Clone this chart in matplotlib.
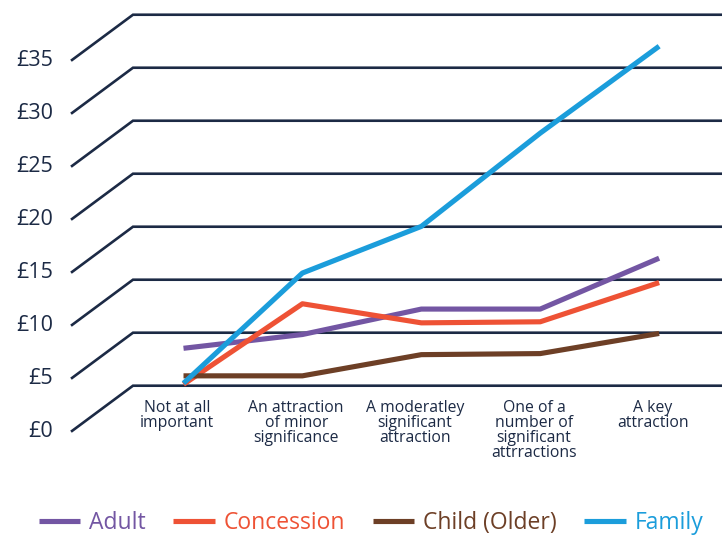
import matplotlib.pyplot as plt
import numpy as np

categories = [
    "Not at all\nimportant",
    "An attraction\nof minor\nsignificance",
    "A moderatley\nsignificant\nattraction",
    "One of a\nnumber of\nsignificant\nattrractions",
    "A key\nattraction",
]
series_names = ["Adult", "Concession", "Child (Older)", "Family"]
adult = [5.7, 7.0, 9.4, 9.4, 14.2]
concession = [2.3, 9.9, 8.1, 8.2, 11.9]
child_older = [3.1, 3.1, 5.1, 5.2, 7.1]
family = [2.4, 12.8, 17.2, 26.0, 34.2]
y_ticks = [0, 5, 10, 15, 20, 25, 30, 35]

colours = ["#7356a3", "#ee5235", "#6d3f26", "#1b9ddb"]
NAVY = "#1c2a45"

plt.rcParams["font.family"] = ["Open Sans", "DejaVu Sans"]
plt.rcParams["font.weight"] = "medium"

# fake 3d: back wall in data coords, depth 0 = back, 1 = front edge of floor
DEPTH_X = -0.5214
DEPTH_Y = -4.34
WALL_X = -0.6855
X_MIN, X_MAX = -1.804, 4.268


def project(x, y, depth):
    return np.asarray(x) + depth * DEPTH_X, np.asarray(y) + depth * DEPTH_Y


fig = plt.figure(figsize=(7.22, 5.36), dpi=100)
ax = fig.add_axes([0, 0, 1, 1])
ax.set_xlim(X_MIN, X_MAX)
ax.set_ylim(-14.18, 36.39)
ax.axis("off")

# gridlines: along the back wall, then folding forward on the side wall
for v in y_ticks:
    fx, fy = project(WALL_X, v, 1)
    ax.plot([fx, WALL_X, X_MAX + 1], [fy, v, v], color=NAVY, lw=1.9,
            solid_capstyle="butt", solid_joinstyle="miter", zorder=1)
    ax.annotate(f"£{v}", (fx, fy), xytext=(-13, 0), textcoords="offset points",
                ha="right", va="center", fontsize=15.5, color=NAVY)

# series run through the middle of the depth
xs = np.arange(len(categories))
for vals, name, c in zip([adult, concession, child_older, family], series_names, colours):
    px, py = project(xs, vals, 0.5)
    ax.plot(px, py, color=c, lw=3.7, solid_capstyle="butt", label=name, zorder=3)

for i, lab in enumerate(categories):
    lx, _ = project(i, 0, 0.6)
    ax.annotate(lab, (lx, 0), xytext=(0, -10.5), textcoords="offset points",
                ha="center", va="top", fontsize=11.3, color=NAVY, linespacing=0.9)

leg = fig.legend(loc="center", bbox_to_anchor=(0.514, 13 / 536), ncol=4, frameon=False,
                 fontsize=16.5, handlelength=1.8, handletextpad=0.4, columnspacing=1.2,
                 labelcolor="linecolor")

fig.savefig("out.png", dpi=100)
